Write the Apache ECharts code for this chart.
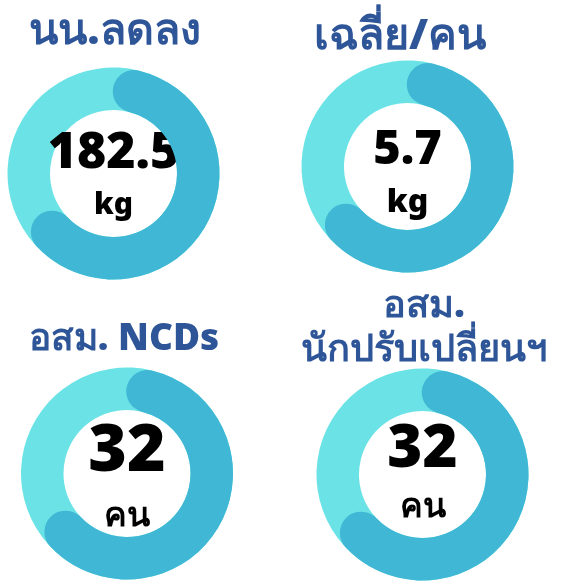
<!DOCTYPE html>
<html>
<head>
<meta charset="utf-8">
<script src="https://cdn.jsdelivr.net/npm/echarts@6/dist/echarts.min.js"></script>
<style>
  html, body { margin: 0; padding: 0; background: #fff; }
  #main { width: 564px; height: 585px; }
</style>
</head>
<body>
<div id="main"></div>
<script>
// card headers, centre numbers, units and the share of the ring that is filled
var headers = ['นน.ลดลง', 'เฉลี่ย/คน', 'อสม. NCDs', 'อสม.\nนักปรับเปลี่ยนฯ'];
var numbers = ['182.5', '5.7', '32', '32'];
var units = ['kg', 'kg', 'คน', 'คน'];
var fill = [59, 59, 59, 59];

// layout of each ring (px)
var centers = [[113.5, 173.5], [407.5, 166.5], [127, 473.5], [422.5, 474.5]];
var numOffset = [-20, -16, -21, -25];
var unitOffset = [32, 36, 43, 33];
var numSize = [50, 47, 66, 60];
var unitSize = [30, 32, 34, 34];
var headPos = [[115, 32], [400, 37], [124, 339], [424, 328]];
var headSize = [43, 43, 37, 38];

var lightColor = '#6BE3E6';
var darkColor = '#40B7D4';
var headColor = '#2E5597';

var chart = echarts.init(document.getElementById('main'));

var series = fill.map(function (v, i) {
  return {
    type: 'gauge',
    center: centers[i],
    radius: 106,
    startAngle: 76,
    endAngle: -284,
    min: 0,
    max: 100,
    pointer: { show: false },
    anchor: { show: false },
    splitLine: { show: false },
    axisTick: { show: false },
    axisLabel: { show: false },
    axisLine: { lineStyle: { width: 42.5, color: [[1, lightColor]] } },
    progress: { show: true, roundCap: true, width: 42.5, itemStyle: { color: darkColor } },
    title: {
      offsetCenter: [0, unitOffset[i]],
      fontSize: unitSize[i],
      fontWeight: 900,
      color: '#000',
      fontFamily: 'Noto Sans'
    },
    detail: {
      offsetCenter: [0, numOffset[i]],
      fontSize: numSize[i],
      fontWeight: 900,
      color: '#000',
      fontFamily: 'Noto Sans',
      formatter: function () { return numbers[i]; }
    },
    data: [{ value: v, name: units[i] }]
  };
});

var graphics = headers.map(function (h, i) {
  return {
    type: 'text',
    x: headPos[i][0],
    y: headPos[i][1],
    style: {
      text: h,
      fill: headColor,
      font: '900 ' + headSize[i] + 'px "Noto Sans"',
      align: 'center',
      verticalAlign: 'middle',
      lineHeight: 44
    }
  };
});

chart.setOption({
  backgroundColor: '#fff',
  animation: false,
  graphic: graphics,
  series: series
});
</script>
</body>
</html>
